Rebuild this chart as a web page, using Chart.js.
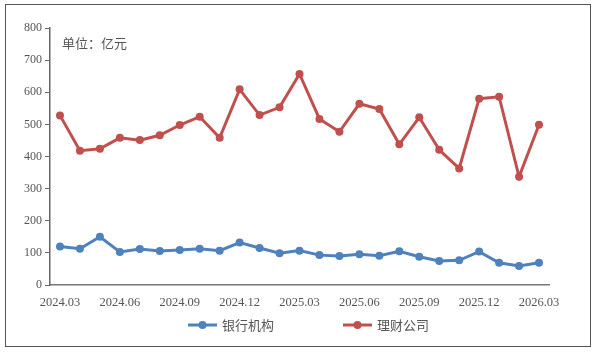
<!DOCTYPE html>
<html>
<head>
<meta charset="utf-8">
<script src="https://cdn.jsdelivr.net/npm/chart.js@4.4.1/dist/chart.umd.min.js"></script>
<style>
  html, body { margin: 0; padding: 0; background: #fff; }
  #wrap { position: relative; width: 600px; height: 353px; }
  #frame { position: absolute; left: 5px; top: 4px; width: 584px; height: 341px; border: 1.5px solid #555; }
  #c { position: absolute; left: 0; top: 0; }
</style>
</head>
<body>
<div id="wrap">
  <div id="frame"></div>
  <canvas id="c" width="600" height="353"></canvas>
</div>
<script>
// months shown on the x axis (only every 3rd is labelled)
var months = [
  "2024.03", "2024.04", "2024.05", "2024.06", "2024.07", "2024.08", "2024.09",
  "2024.10", "2024.11", "2024.12", "2025.01", "2025.02", "2025.03", "2025.04",
  "2025.05", "2025.06", "2025.07", "2025.08", "2025.09", "2025.10", "2025.11",
  "2025.12", "2026.01", "2026.02", "2026.03"
];
var bankValues = [120, 113, 150, 103, 112, 106, 109, 113, 107, 132, 115, 99, 107,
                  93, 90, 96, 91, 105, 88, 75, 77, 104, 69, 59, 69];
var wealthValues = [528, 418, 424, 458, 451, 466, 498, 524, 458, 609, 529, 553, 657,
                    517, 477, 564, 548, 438, 522, 421, 363, 580, 586, 337, 499];
var seriesNames = ["银行机构", "理财公司"];
var unitLabel = "单位：亿元";

var blue = "#4F81BD";
var red = "#C0504D";
var textCol = "#555";
var serif = "'Liberation Serif', 'Noto Sans CJK SC', serif";
var cjk = "'Noto Sans CJK SC', sans-serif";

// legend + unit text, drawn by hand
var extras = {
  id: 'extras',
  afterDraw: function (chart) {
    var ctx = chart.ctx;
    ctx.save();
    ctx.fillStyle = textCol;
    ctx.font = "13px " + cjk;
    ctx.textBaseline = "middle";
    ctx.fillText(unitLabel, 62, 43);

    var items = [
      { x: 188, color: blue, name: seriesNames[0] },
      { x: 343, color: red, name: seriesNames[1] }
    ];
    var y = 325;
    items.forEach(function (it) {
      ctx.strokeStyle = it.color;
      ctx.lineWidth = 3;
      ctx.beginPath();
      ctx.moveTo(it.x, y);
      ctx.lineTo(it.x + 29, y);
      ctx.stroke();
      ctx.fillStyle = it.color;
      ctx.beginPath();
      ctx.arc(it.x + 14.5, y, 4, 0, Math.PI * 2);
      ctx.fill();
      ctx.fillStyle = textCol;
      ctx.font = "13px " + cjk;
      ctx.fillText(it.name, it.x + 34, y);
    });
    ctx.restore();
  }
};

new Chart(document.getElementById("c"), {
  type: 'line',
  data: {
    labels: months,
    datasets: [
      {
        label: seriesNames[0],
        data: bankValues,
        borderColor: blue,
        backgroundColor: blue,
        borderWidth: 3,
        pointRadius: 4,
        pointBackgroundColor: blue,
        pointBorderWidth: 0,
        tension: 0
      },
      {
        label: seriesNames[1],
        data: wealthValues,
        borderColor: red,
        backgroundColor: red,
        borderWidth: 3,
        pointRadius: 4,
        pointBackgroundColor: red,
        pointBorderWidth: 0,
        tension: 0
      }
    ]
  },
  options: {
    responsive: false,
    animation: false,
    layout: { padding: { top: 28, right: 51, left: 0, bottom: 0 } },
    plugins: {
      legend: { display: false },
      tooltip: { enabled: false }
    },
    scales: {
      x: {
        offset: true,
        grid: { display: false },
        border: { display: true, color: '#777', width: 1.5 },
        ticks: {
          autoSkip: false,
          maxRotation: 0,
          color: textCol,
          font: { family: serif, size: 12.5 },
          padding: 2,
          callback: function (val, i) {
            return i % 3 === 0 ? months[i] : '';
          }
        },
        afterFit: function (s) { s.height = 68; }
      },
      y: {
        min: 0,
        max: 800,
        grid: { drawOnChartArea: false, drawTicks: true, tickLength: 5, color: '#666' },
        border: { display: true, color: '#666', width: 1.5 },
        ticks: {
          stepSize: 100,
          color: textCol,
          font: { family: serif, size: 12 },
          padding: 3
        },
        afterFit: function (s) { s.width = 50; }
      }
    }
  },
  plugins: [extras]
});
</script>
</body>
</html>
